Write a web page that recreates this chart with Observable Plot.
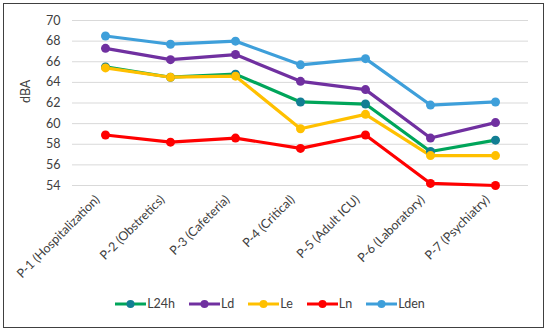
<!DOCTYPE html>
<html><head><meta charset="utf-8">
<script src="https://cdn.jsdelivr.net/npm/d3@7"></script>
<script src="https://cdn.jsdelivr.net/npm/@observablehq/plot@0.6"></script>
<style>
body{margin:0;background:#fff;font-family:Lato,"Open Sans",sans-serif;}
#wrap{position:relative;width:550px;height:333px;}
#frame{position:absolute;left:3px;top:3px;width:541px;height:325px;border:1.5px solid #404040;box-sizing:border-box;}
#chart{position:absolute;left:0;top:0;}
#legend{position:absolute;left:0;top:296px;width:550px;display:flex;justify-content:center;gap:14px;font-size:12.5px;color:#404040;padding-right:10px;box-sizing:border-box;}
.item{display:flex;align-items:center;gap:1px;}
</style></head>
<body><div id="wrap"><div id="frame"></div><div id="chart"></div><div id="legend"></div></div>
<script>
const categories = ["P-1 (Hospitalization)","P-2 (Obstretics)","P-3 (Cafeteria)","P-4 (Critical)","P-5 (Adult ICU)","P-6 (Laboratory)","P-7 (Psychiatry)"];
const seriesNames = ["L24h","Ld","Le","Ln","Lden"];
const L24h = [65.5,64.5,64.8,62.1,61.9,57.3,58.4];
const Ld   = [67.3,66.2,66.7,64.1,63.3,58.6,60.1];
const Le   = [65.4,64.5,64.6,59.5,60.9,56.9,56.9];
const Ln   = [58.9,58.2,58.6,57.6,58.9,54.2,54.0];
const Lden = [68.5,67.7,68.0,65.7,66.3,61.8,62.1];
const yTicks = [54,56,58,60,62,64,66,68,70];
const lineColors = {L24h:"#00A55A",Ld:"#7030A0",Le:"#FFC000",Ln:"#FF0000",Lden:"#3E9FDA"};
const dotColors  = {L24h:"#127E93",Ld:"#7030A0",Le:"#FFC000",Ln:"#FF0000",Lden:"#3E9FDA"};

const valuesBy = {L24h,Ld,Le,Ln,Lden};
const data = seriesNames.flatMap(s => categories.map((c,i)=>({series:s,cat:c,value:valuesBy[s][i]})));

const chart = Plot.plot({
  width:550, height:285,
  marginLeft:72, marginRight:22, marginTop:20, marginBottom:100,
  style:{fontFamily:"Lato, 'Open Sans', sans-serif", fontSize:"12px", color:"#404040", background:"transparent"},
  x:{type:"point", domain:categories, padding:0.5},
  y:{domain:[54,70]},
  marks:[
    Plot.gridY(yTicks,{stroke:"#d9d9d9", strokeOpacity:1, strokeWidth:1}),
    Plot.axisY({ticks:yTicks, tickSize:0, tickPadding:12, label:null, fontSize:12.5, fill:"#404040"}),
    Plot.text(["dBA"],{frameAnchor:"left", dx:-47, dy:0, rotate:-90, fontSize:12.5, fill:"#404040"}),
    Plot.axisX({tickSize:0, tickRotate:-45, tickPadding:12, dx:-8, label:null, fontSize:12.5, fill:"#404040"}),
    Plot.line(data,{x:"cat", y:"value", z:"series", stroke:d=>lineColors[d.series], strokeWidth:3.2}),
    Plot.dot(data,{x:"cat", y:"value", fill:d=>dotColors[d.series], r:4.5, stroke:"none"})
  ]
});
document.getElementById("chart").appendChild(chart);

const leg = document.getElementById("legend");
seriesNames.forEach(s=>{
  const it = document.createElement("div"); it.className="item";
  it.innerHTML = `<svg width="31" height="10"><line x1="0" x2="31" y1="5" y2="5" stroke="${lineColors[s]}" stroke-width="3"/><circle cx="15.5" cy="5" r="4" fill="${dotColors[s]}"/></svg><span>${s}</span>`;
  leg.appendChild(it);
});
</script></body></html>
